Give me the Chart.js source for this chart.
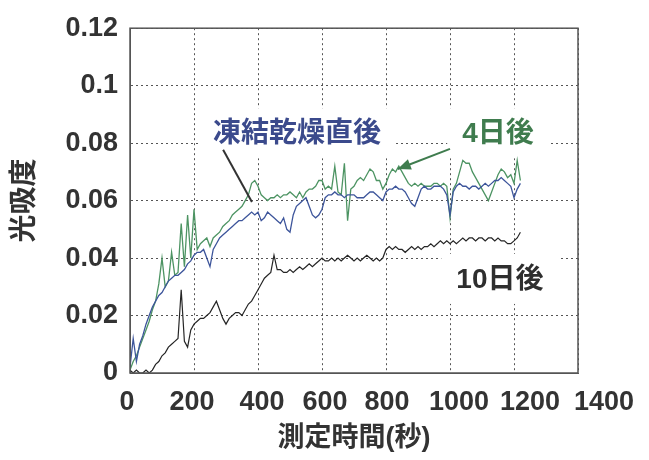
<!DOCTYPE html>
<html>
<head>
<meta charset="utf-8">
<script src="https://cdn.jsdelivr.net/npm/chart.js@4.4.1/dist/chart.umd.min.js"></script>
<style>
  html, body { margin: 0; padding: 0; background: #fff; }
</style>
</head>
<body>
<canvas id="myGraph" width="649" height="460"></canvas>
<script>
// measuring time (s), one reading every 10 s
const times = [
    0, 10, 20, 30, 40, 50, 60, 70, 80, 90,
    100, 110, 120, 130, 140, 150, 160, 170, 180, 190,
    200, 210, 220, 230, 240, 250, 260, 270, 280, 290,
    300, 310, 320, 330, 340, 350, 360, 370, 380, 390,
    400, 410, 420, 430, 440, 450, 460, 470, 480, 490,
    500, 510, 520, 530, 540, 550, 560, 570, 580, 590,
    600, 610, 620, 630, 640, 650, 660, 670, 680, 690,
    700, 710, 720, 730, 740, 750, 760, 770, 780, 790,
    800, 810, 820, 830, 840, 850, 860, 870, 880, 890,
    900, 910, 920, 930, 940, 950, 960, 970, 980, 990,
    1000, 1010, 1020, 1030, 1040, 1050, 1060, 1070, 1080, 1090,
    1100, 1110, 1120, 1130, 1140, 1150, 1160, 1170, 1180, 1190,
    1200, 1210, 1220
];

// 凍結乾燥直後
const justDried = [
    0.002, 0.012, 0.004, 0.010, 0.013, 0.017, 0.020, 0.023, 0.025, 0.027,
    0.028, 0.030, 0.032, 0.033, 0.034, 0.034, 0.035, 0.036, 0.038, 0.039,
    0.041, 0.042, 0.042, 0.043, 0.040, 0.037, 0.043, 0.045, 0.047, 0.048,
    0.049, 0.050, 0.051, 0.052, 0.053, 0.053, 0.054, 0.055, 0.056, 0.055,
    0.056, 0.053, 0.054, 0.056, 0.055, 0.054, 0.053, 0.052, 0.054, 0.050,
    0.049, 0.055, 0.058, 0.059, 0.060, 0.061, 0.058, 0.055, 0.054, 0.055,
    0.057, 0.061, 0.062, 0.062, 0.063, 0.062, 0.062, 0.061, 0.062, 0.062,
    0.062, 0.061, 0.061, 0.061, 0.062, 0.063, 0.063, 0.062, 0.061, 0.060,
    0.063, 0.064, 0.064, 0.065, 0.064, 0.064, 0.063, 0.061, 0.059, 0.058,
    0.061, 0.064, 0.065, 0.064, 0.064, 0.065, 0.065, 0.065, 0.064, 0.062,
    0.055, 0.063, 0.065, 0.066, 0.065, 0.065, 0.064, 0.065, 0.065, 0.064,
    0.065, 0.066, 0.065, 0.066, 0.067, 0.067, 0.068, 0.067, 0.066, 0.065,
    0.061, 0.064, 0.066
];

// 4日後
const after4Days = [
    0.001, 0.004, 0.006, 0.009, 0.012, 0.015, 0.018, 0.022, 0.025, 0.031,
    0.040, 0.030, 0.032, 0.042, 0.034, 0.035, 0.052, 0.037, 0.055, 0.040,
    0.057, 0.043, 0.045, 0.046, 0.047, 0.044, 0.047, 0.048, 0.049, 0.051,
    0.052, 0.053, 0.055, 0.056, 0.057, 0.058, 0.060, 0.062, 0.066, 0.067,
    0.065, 0.062, 0.061, 0.060, 0.061, 0.061, 0.062, 0.061, 0.062, 0.062,
    0.063, 0.062, 0.061, 0.063, 0.061, 0.063, 0.064, 0.064, 0.065, 0.067,
    0.067, 0.064, 0.065, 0.064, 0.072, 0.063, 0.062, 0.073, 0.053, 0.064,
    0.065, 0.067, 0.068, 0.067, 0.069, 0.071, 0.070, 0.067, 0.067, 0.064,
    0.066, 0.069, 0.071, 0.070, 0.072, 0.070, 0.068, 0.066, 0.065, 0.066,
    0.065, 0.066, 0.065, 0.065, 0.065, 0.066, 0.066, 0.065, 0.066, 0.065,
    0.054, 0.064, 0.066, 0.070, 0.074, 0.073, 0.073, 0.070, 0.068, 0.066,
    0.064, 0.062, 0.060, 0.063, 0.066, 0.069, 0.071, 0.070, 0.068, 0.069,
    0.066, 0.074, 0.067
];

// 10日後
const after10Days = [
    0.001, 0.000, 0.001, 0.000, 0.000, 0.001, 0.000, 0.001, 0.003, 0.004,
    0.006, 0.007, 0.009, 0.010, 0.011, 0.012, 0.029, 0.011, 0.009, 0.015,
    0.017, 0.018, 0.019, 0.019, 0.020, 0.021, 0.023, 0.025, 0.022, 0.019,
    0.017, 0.019, 0.020, 0.021, 0.021, 0.020, 0.022, 0.024, 0.025, 0.027,
    0.029, 0.031, 0.033, 0.034, 0.035, 0.041, 0.036, 0.036, 0.035, 0.035,
    0.036, 0.035, 0.036, 0.037, 0.036, 0.037, 0.038, 0.037, 0.038, 0.039,
    0.040, 0.039, 0.039, 0.040, 0.039, 0.040, 0.039, 0.040, 0.041, 0.040,
    0.039, 0.040, 0.039, 0.040, 0.041, 0.040, 0.039, 0.040, 0.039, 0.040,
    0.043, 0.044, 0.043, 0.044, 0.043, 0.043, 0.042, 0.043, 0.044, 0.043,
    0.044, 0.043, 0.044, 0.044, 0.045, 0.044, 0.045, 0.046, 0.045, 0.046,
    0.045, 0.046, 0.045, 0.046, 0.047, 0.046, 0.047, 0.047, 0.046, 0.047,
    0.047, 0.046, 0.047, 0.047, 0.046, 0.047, 0.046, 0.046, 0.045, 0.045,
    0.046, 0.047, 0.049
];

const xTickLabels = ['0', '200', '400', '600', '800', '1000', '1200', '1400'];
const yTickLabels = ['0', '0.02', '0.04', '0.06', '0.08', '0.1', '0.12'];
// the printed x labels drift right of their grid lines
const xLabelNudge = [-3, -2, 4, 3, 1, 9, 16, 26];

// in-plot labels, placed in data units
const notes = [
    { text: '凍結乾燥直後', t: 522, v: 0.0831, color: '#3b4a8c' },
    { text: '4日後', t: 1150, v: 0.0831, color: '#3f7c4e' },
    { text: '10日後', t: 1156, v: 0.0324, color: '#2e2e2e' }
];
const pointers = [
    { from: [291, 0.0777], to: [381, 0.0595], color: '#333333', head: false },
    { from: [1000, 0.0780], to: [837, 0.0710], color: '#3f7c4e', head: true }
];

const textFont = '"Liberation Sans", "Noto Sans CJK JP", sans-serif';

function toPoints(values) {
    return values.map(function (v, i) { return { x: times[i], y: v }; });
}

const notesPlugin = {
    id: 'notes',
    beforeDatasetsDraw(chart) {
        const ctx = chart.ctx;
        const x = chart.scales.x, y = chart.scales.y;
        ctx.save();
        ctx.font = 'bold 28px ' + textFont;
        ctx.textAlign = 'center';
        ctx.textBaseline = 'middle';
        notes.forEach(function (n) {
            const px = x.getPixelForValue(n.t);
            const py = y.getPixelForValue(n.v);
            const w = ctx.measureText(n.text).width;
            ctx.fillStyle = '#fff';
            ctx.fillRect(px - w / 2 - 15, py - 26, w + 30, 50);
            ctx.fillStyle = n.color;
            ctx.fillText(n.text, px, py);
        });
        ctx.restore();
    },
    afterDatasetsDraw(chart) {
        const ctx = chart.ctx;
        const x = chart.scales.x, y = chart.scales.y;
        const area = chart.chartArea;
        ctx.save();
        pointers.forEach(function (p) {
            const x1 = x.getPixelForValue(p.from[0]), y1 = y.getPixelForValue(p.from[1]);
            const x2 = x.getPixelForValue(p.to[0]), y2 = y.getPixelForValue(p.to[1]);
            ctx.strokeStyle = p.color;
            ctx.fillStyle = p.color;
            ctx.lineWidth = 2;
            ctx.beginPath();
            ctx.moveTo(x1, y1);
            ctx.lineTo(x2, y2);
            ctx.stroke();
            if (p.head) {
                const a = Math.atan2(y2 - y1, x2 - x1);
                ctx.beginPath();
                ctx.moveTo(x2, y2);
                ctx.lineTo(x2 - 14 * Math.cos(a - 0.4), y2 - 14 * Math.sin(a - 0.4));
                ctx.lineTo(x2 - 14 * Math.cos(a + 0.4), y2 - 14 * Math.sin(a + 0.4));
                ctx.closePath();
                ctx.fill();
            }
        });
        // frame round the plot
        ctx.setLineDash([]);
        ctx.strokeStyle = '#555';
        ctx.lineWidth = 1.5;
        ctx.strokeRect(area.left, area.top, area.right - area.left, area.bottom - area.top);

        // x tick labels, drawn by hand so each can sit where the print has it
        ctx.fillStyle = '#333';
        ctx.font = 'bold 27px ' + textFont;
        ctx.textAlign = 'center';
        ctx.textBaseline = 'middle';
        x.ticks.forEach(function (tick, i) {
            ctx.fillText(xTickLabels[i], x.getPixelForValue(tick.value) + xLabelNudge[i], area.bottom + 30);
        });
        ctx.restore();
    }
};

const ctx = document.getElementById('myGraph').getContext('2d');
const lineChart = new Chart(ctx, {
    type: 'line',
    data: {
        datasets: [
            {
                label: '凍結乾燥直後',
                data: toPoints(justDried),
                borderColor: '#3d559b',
                borderWidth: 1.3,
                pointRadius: 0,
                fill: false
            },
            {
                label: '4日後',
                data: toPoints(after4Days),
                borderColor: '#4d9463',
                borderWidth: 1.3,
                pointRadius: 0,
                fill: false
            },
            {
                label: '10日後',
                data: toPoints(after10Days),
                borderColor: '#262626',
                borderWidth: 1.2,
                pointRadius: 0,
                fill: false
            }
        ]
    },
    options: {
        responsive: false,
        animation: false,
        devicePixelRatio: 1,
        layout: { padding: { left: 0, right: 71, top: 18, bottom: 0 } },
        plugins: {
            legend: { display: false },
            tooltip: { enabled: false }
        },
        scales: {
            x: {
                type: 'linear',
                min: 0,
                max: 1400,
                afterFit: function (scale) { scale.height = 87; },
                grid: { color: '#555', lineWidth: 1, drawTicks: false },
                border: { display: true, color: '#555', dash: [2, 3] },
                ticks: {
                    stepSize: 200,
                    autoSkip: false,
                    maxRotation: 0,
                    padding: 12,
                    color: 'rgba(0,0,0,0)',
                    font: { family: textFont, size: 27, weight: 'bold' },
                    callback: function (value, index) { return xTickLabels[index]; }
                },
                title: {
                    display: true,
                    text: '測定時間(秒)',
                    color: '#333',
                    padding: { top: 0, bottom: 5 },
                    font: { family: textFont, size: 27, weight: 'bold' }
                }
            },
            y: {
                min: 0,
                max: 0.12,
                afterFit: function (scale) { scale.width = 130; },
                grid: { color: '#555', lineWidth: 1, drawTicks: false },
                border: { display: true, color: '#555', dash: [2, 3] },
                ticks: {
                    stepSize: 0.02,
                    padding: 12,
                    color: '#333',
                    font: { family: textFont, size: 27, weight: 'bold' },
                    callback: function (value, index) { return yTickLabels[index]; }
                },
                title: {
                    display: true,
                    text: '光吸度',
                    color: '#333',
                    padding: { top: 8, bottom: 0 },
                    font: { family: textFont, size: 28, weight: 'bold' }
                }
            }
        }
    },
    plugins: [notesPlugin]
});
</script>
</body>
</html>
